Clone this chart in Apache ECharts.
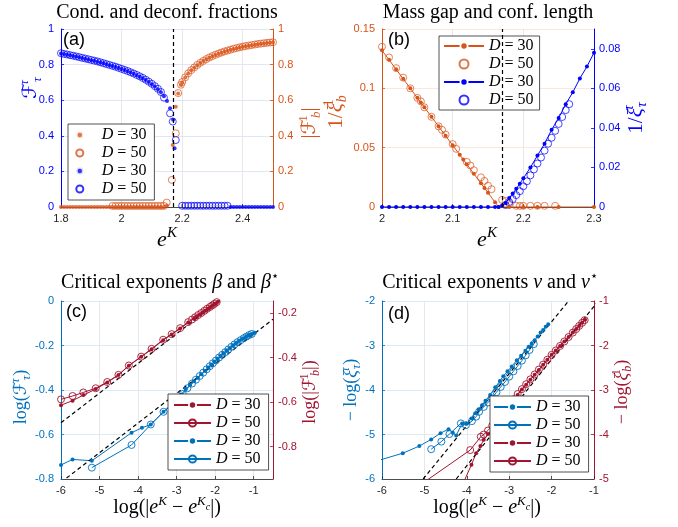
<!DOCTYPE html>
<html><head><meta charset="utf-8">
<script src="https://cdn.jsdelivr.net/npm/echarts@6/dist/echarts.min.js"></script>
<style>html,body{margin:0;padding:0;background:#fff}#c{width:678px;height:527px}</style>
</head><body><div id="c"></div>
<script>
// ---------------- DATA ----------------
const eKc = 2.175;
// (a) condensate (blue, left) and deconfined (orange, right) fractions vs e^K
const aBlue30X = [1.80,1.81,1.82,1.83,1.84,1.85,1.86,1.87,1.88,1.89,1.90,1.91,1.92,1.93,1.94,1.95,1.96,1.97,1.98,1.99,2.00,2.01,2.02,2.03,2.04,2.05,2.06,2.07,2.08,2.09,2.10,2.11,2.12,2.13,2.14,2.15,2.16,2.17,2.175,2.36,2.37,2.38,2.39,2.40,2.41,2.42,2.43,2.44,2.45,2.46,2.47,2.48,2.49,2.50];
const aBlue30Y = [0.862,0.859,0.855,0.852,0.848,0.845,0.841,0.837,0.833,0.829,0.825,0.821,0.816,0.812,0.807,0.802,0.797,0.792,0.786,0.781,0.775,0.769,0.762,0.755,0.748,0.740,0.732,0.723,0.713,0.702,0.690,0.677,0.662,0.644,0.622,0.595,0.555,0.490,0.330,0,0,0,0,0,0,0,0,0,0,0,0,0,0,0];
const aBlue50X = [1.80,1.81,1.82,1.83,1.84,1.85,1.86,1.87,1.88,1.89,1.90,1.91,1.92,1.93,1.94,1.95,1.96,1.97,1.98,1.99,2.00,2.01,2.02,2.03,2.04,2.05,2.06,2.07,2.08,2.09,2.10,2.11,2.12,2.13,2.14,2.16,2.169,2.179,2.20,2.21,2.22,2.23,2.24,2.25,2.26,2.27,2.28,2.29,2.30,2.31,2.32,2.33,2.34,2.35];
const aBlue50Y = [0.864,0.860,0.857,0.853,0.850,0.846,0.842,0.838,0.834,0.830,0.826,0.822,0.818,0.813,0.808,0.803,0.798,0.793,0.788,0.782,0.776,0.770,0.764,0.757,0.750,0.742,0.734,0.725,0.715,0.704,0.692,0.679,0.664,0.646,0.614,0.526,0.480,0.376,0.007,0.007,0.007,0.007,0.007,0.007,0.007,0.007,0.007,0.007,0.007,0.007,0.007,0.007,0.007,0.007];
const aOr30X = [1.80,1.81,1.82,1.83,1.84,1.85,1.86,1.87,1.88,1.89,1.90,1.91,1.92,1.93,1.94,1.95,1.96,1.97,1.98,1.99,2.00,2.01,2.02,2.03,2.04,2.05,2.06,2.07,2.08,2.09,2.10,2.11,2.12,2.13,2.14,2.15,2.169,2.179,2.187,2.196,2.20,2.21,2.22,2.23,2.24,2.25,2.26,2.27,2.28,2.29,2.30,2.31,2.32,2.33,2.34,2.35,2.36,2.37,2.38,2.39,2.40,2.41,2.42,2.43,2.44,2.45,2.46,2.47,2.48,2.49,2.50];
const aOr30Y = [0,0,0,0,0,0,0,0,0,0,0,0,0,0,0,0,0,0,0,0,0,0,0,0,0,0,0,0,0,0,0,0,0,0,0,0.008,0.348,0.563,0.638,0.685,0.700,0.727,0.750,0.768,0.783,0.797,0.809,0.820,0.830,0.839,0.847,0.854,0.861,0.867,0.873,0.878,0.883,0.888,0.892,0.896,0.900,0.903,0.906,0.909,0.912,0.915,0.917,0.919,0.921,0.923,0.925];
const aOr50X = [1.97,1.98,1.99,2.00,2.01,2.02,2.03,2.04,2.05,2.06,2.07,2.08,2.09,2.10,2.11,2.12,2.13,2.14,2.149,2.166,2.179,2.187,2.196,2.20,2.21,2.22,2.23,2.24,2.25,2.26,2.27,2.28,2.29,2.30,2.31,2.32,2.33,2.34,2.35,2.36,2.37,2.38,2.39,2.40,2.41,2.42,2.43,2.44,2.45,2.46,2.47,2.48,2.49,2.50];
const aOr50Y = [0.006,0.006,0.006,0.006,0.006,0.006,0.006,0.006,0.006,0.006,0.006,0.006,0.006,0.006,0.006,0.006,0.006,0.006,0.025,0.152,0.414,0.640,0.687,0.702,0.728,0.751,0.769,0.784,0.798,0.810,0.821,0.831,0.840,0.848,0.855,0.862,0.868,0.874,0.879,0.884,0.889,0.893,0.897,0.901,0.904,0.907,0.910,0.913,0.916,0.918,0.920,0.922,0.924,0.926];

// (b) inverse lengths vs e^K
const bOr30X = [2.000,2.010,2.020,2.030,2.040,2.050,2.055,2.060,2.070,2.080,2.090,2.100,2.110,2.115,2.120,2.130,2.140,2.145,2.150,2.160,2.165,2.180,2.200,2.220,2.250,2.300];
const bOr30Y = [0.132,0.124,0.116,0.108,0.100,0.092,0.088,0.084,0.076,0.068,0.060,0.052,0.044,0.040,0.036,0.028,0.020,0.016,0.012,0.004,0.000,0,0,0,0,0];
const bOr50X = [2.000,2.010,2.020,2.030,2.040,2.050,2.055,2.060,2.070,2.080,2.085,2.090,2.100,2.105,2.120,2.125,2.130,2.140,2.145,2.150,2.155,2.170,2.175,2.180,2.190,2.195,2.200,2.210,2.220,2.230,2.245];
const bOr50Y = [0.135,0.126,0.117,0.109,0.100,0.092,0.089,0.084,0.076,0.068,0.065,0.061,0.053,0.049,0.038,0.035,0.031,0.025,0.022,0.018,0.015,0.006,0.005,0.003,0.001,0.001,0.001,0.001,0.001,0.001,0.001];
const bBlu30X = [2.00,2.01,2.02,2.03,2.04,2.05,2.06,2.07,2.08,2.09,2.10,2.11,2.12,2.13,2.14,2.15,2.16,2.165,2.17,2.175,2.18,2.185,2.19,2.195,2.20,2.21,2.22,2.23,2.24,2.25,2.26,2.27,2.28,2.29,2.30];
const bBlu30Y = [0,0,0,0,0,0,0,0,0,0,0,0,0,0,0,0,0,0,0.0008,0.002,0.0045,0.0068,0.0092,0.0118,0.0145,0.020,0.026,0.032,0.039,0.045,0.052,0.058,0.065,0.071,0.078];
const bBlu50X = [2.175,2.180,2.185,2.190,2.195,2.200,2.205,2.210,2.215,2.220,2.225,2.230,2.235,2.240,2.245,2.250,2.255,2.260,2.265];
const bBlu50Y = [0.001,0.0025,0.004,0.006,0.008,0.0105,0.013,0.016,0.019,0.022,0.025,0.0285,0.032,0.035,0.0385,0.042,0.0455,0.049,0.052];

// (c) log-log fractions
const cRed30X = [-6.0,-5.70,-5.42,-5.10,-4.80,-4.51,-4.24,-3.92,-3.65,-3.35,-3.13,-2.91,-2.70,-2.55,-2.48,-2.40,-2.32,-2.25,-2.18,-2.11,-2.05,-1.99,-1.93,-1.88,-1.83,-1.78,-1.73];
const cRed30Y = [-0.613,-0.593,-0.568,-0.541,-0.511,-0.478,-0.436,-0.396,-0.362,-0.321,-0.296,-0.269,-0.242,-0.224,-0.215,-0.206,-0.196,-0.188,-0.179,-0.171,-0.163,-0.156,-0.148,-0.142,-0.136,-0.130,-0.124];
const cRed50X = [-6.0,-5.70,-5.42,-5.10,-4.80,-4.51,-4.24,-3.92,-3.65,-3.35,-3.13,-2.91,-2.70,-2.60,-2.52,-2.44,-2.36,-2.28,-2.21,-2.14,-2.08,-2.02,-1.96,-1.90,-1.85,-1.80,-1.75];
const cRed50Y = [-0.587,-0.572,-0.556,-0.537,-0.509,-0.477,-0.435,-0.395,-0.360,-0.319,-0.294,-0.267,-0.240,-0.228,-0.218,-0.208,-0.199,-0.189,-0.180,-0.172,-0.165,-0.158,-0.150,-0.143,-0.137,-0.131,-0.125];
const cBlu30X = [-6.0,-5.70,-5.20,-4.17,-3.90,-3.67,-3.34,-3.05,-2.88,-2.76,-2.65,-2.55,-2.45,-2.36,-2.27,-2.18,-2.10,-2.02,-1.94,-1.86,-1.78,-1.70,-1.62,-1.54,-1.46,-1.38,-1.30,-1.22,-1.15,-1.08,-1.02,-0.97];
const cBlu30Y = [-0.737,-0.712,-0.718,-0.592,-0.570,-0.555,-0.498,-0.452,-0.420,-0.396,-0.378,-0.361,-0.345,-0.329,-0.314,-0.299,-0.286,-0.273,-0.260,-0.247,-0.235,-0.223,-0.212,-0.200,-0.190,-0.180,-0.171,-0.163,-0.156,-0.150,-0.146,-0.143];
const cBlu50X = [-5.20,-4.17,-3.67,-3.34,-3.02,-2.84,-2.72,-2.60,-2.50,-2.40,-2.31,-2.22,-2.14,-2.06,-1.98,-1.90,-1.82,-1.74,-1.66,-1.58,-1.50,-1.42,-1.34,-1.26,-1.19,-1.12,-1.05];
const cBlu50Y = [-0.749,-0.647,-0.555,-0.498,-0.448,-0.418,-0.392,-0.371,-0.354,-0.337,-0.322,-0.307,-0.293,-0.280,-0.267,-0.254,-0.242,-0.230,-0.218,-0.206,-0.195,-0.185,-0.176,-0.167,-0.160,-0.153,-0.148];
const cFitTauX = [-6.0,-0.5];  const cFitTauY = [-0.815,-0.082];   // slope 2/15 (left axis)
const cFitBX   = [-6.0,-0.5];  const cFitBY   = [-0.692,0.041];    // slope 2/15 (right axis)

// (d) log-log lengths
const dBlu30X = [-6.6,-5.51,-5.12,-4.84,-4.62,-4.43,-4.33,-4.25,-4.11,-4.01,-3.89,-3.80,-3.72,-3.64,-3.56,-3.45,-3.33,-3.22,-3.14,-3.04,-2.94,-2.82,-2.72,-2.62,-2.54,-2.47,-2.40,-2.33,-2.26,-2.20,-2.14,-2.08];
const dBlu30Y = [-5.73,-5.42,-5.26,-5.11,-4.97,-4.88,-4.96,-5.02,-4.75,-4.76,-4.64,-4.52,-4.43,-4.34,-4.24,-4.11,-3.94,-3.80,-3.69,-3.58,-3.47,-3.33,-3.23,-3.12,-3.03,-2.96,-2.88,-2.80,-2.71,-2.65,-2.58,-2.52];
const dBlu50X = [-4.84,-4.60,-4.41,-4.14,-4.02,-3.88,-3.78,-3.71,-3.60,-3.50,-3.41,-3.30,-3.20,-3.10,-3.00,-2.90,-2.80,-2.70,-2.61,-2.52,-2.42];
const dBlu50Y = [-5.33,-5.16,-4.99,-4.75,-4.79,-4.70,-4.60,-4.49,-4.38,-4.28,-4.19,-4.05,-3.93,-3.82,-3.70,-3.58,-3.46,-3.34,-3.22,-3.10,-2.97];
const dRed30X = [-4.20,-3.89,-3.78,-3.68,-3.60,-3.50,-3.40,-3.30,-3.20,-3.10,-3.00,-2.90,-2.80,-2.70,-2.60,-2.50,-2.40,-2.30,-2.20,-2.10,-2.00,-1.90,-1.80,-1.70,-1.60,-1.50,-1.42,-1.35,-1.28,-1.21];
const dRed30Y = [-5.34,-4.68,-4.42,-4.26,-4.12,-3.99,-3.87,-3.74,-3.61,-3.49,-3.36,-3.23,-3.11,-2.99,-2.88,-2.77,-2.66,-2.55,-2.43,-2.32,-2.21,-2.11,-2.01,-1.91,-1.81,-1.71,-1.63,-1.56,-1.49,-1.42];
const dRed50X = [-5.20,-3.92,-3.67,-3.60,-3.50,-3.40,-3.30,-3.20,-3.10,-3.00,-2.90,-2.80,-2.70,-2.60,-2.50,-2.40,-2.30,-2.20,-2.10,-2.00,-1.90,-1.80,-1.70,-1.60,-1.50,-1.42,-1.35,-1.28,-1.22];
const dRed50Y = [-5.20,-4.35,-4.05,-4.00,-3.91,-3.80,-3.68,-3.57,-3.45,-3.33,-3.21,-3.09,-2.98,-2.87,-2.76,-2.65,-2.54,-2.43,-2.32,-2.21,-2.11,-2.01,-1.91,-1.81,-1.71,-1.63,-1.56,-1.49,-1.43];
const dFitTauX = [-5.03,-1.60]; const dFitTauY = [-6.0,-2.0];     // slope 7/6 (left axis)
const dFitBX   = [-4.25,-0.90]; const dFitBY   = [-5.0,-1.0];     // slope 7/6 (right axis)

// tick labels for the shifted right axis of (c)
const cRightTicks = [-0.8,-0.6,-0.4,-0.2];

// ---------------- STYLE ----------------
const BLUE='#0000FF', ORANGE='#D95319', MBLUE='#0072BD', MRED='#A2142F', INK='#262626';
const SANS="'Liberation Sans', Arial, sans-serif";
const SERIF="'Liberation Serif','DejaVu Serif',serif";
const pts=(xs,ys)=>xs.map((x,i)=>[x,ys[i]]);

function xAx(gi,min,max,interval,showMax){
  return {type:'value',gridIndex:gi,min,max,interval,
    axisLine:{show:true,onZero:false,lineStyle:{color:INK,width:0.8}},
    axisTick:{show:true,inside:true,length:3,lineStyle:{color:INK,width:0.8}},
    axisLabel:{color:INK,fontFamily:SANS,fontSize:11,margin:6,showMaxLabel:showMax,showMinLabel:true},
    splitLine:{show:true,lineStyle:{color:'#e2e2e2',width:0.8}}};
}
function yAx(gi,pos,min,max,interval,color,grid,showMax){
  return {type:'value',gridIndex:gi,position:pos,min,max,interval,
    axisLine:{show:true,onZero:false,lineStyle:{color,width:1}},
    axisTick:{show:true,inside:true,length:3,lineStyle:{color,width:0.8}},
    axisLabel:{color,fontFamily:SANS,fontSize:11,margin:pos==='left'?7:5,showMaxLabel:showMax!==false,showMinLabel:true},
    splitLine:{show:!!grid,lineStyle:{color:grid||'#eee',width:0.8}}};
}
function dots(name,xi,yi,xs,ys,color,size){
  return {type:'scatter',name,xAxisIndex:xi,yAxisIndex:yi,data:pts(xs,ys),symbol:'circle',symbolSize:size,
    itemStyle:{color},emphasis:{disabled:true},silent:true,clip:true};
}
function rings(name,xi,yi,xs,ys,color,size){
  return {type:'scatter',name,xAxisIndex:xi,yAxisIndex:yi,data:pts(xs,ys),symbol:'circle',symbolSize:size,
    itemStyle:{color:'rgba(255,255,255,0)',borderColor:color,borderWidth:0.9},emphasis:{disabled:true},silent:true,clip:true};
}
function lineDots(name,xi,yi,xs,ys,color,size,hollow){
  return {type:'line',name,xAxisIndex:xi,yAxisIndex:yi,data:pts(xs,ys),symbol:'circle',symbolSize:size,
    showSymbol:true,showAllSymbol:true,lineStyle:{color,width:1},
    itemStyle:hollow?{color:'rgba(255,255,255,0)',borderColor:color,borderWidth:0.9}:{color,borderWidth:0},
    emphasis:{disabled:true},silent:true,clip:true};
}
function fit(name,xi,yi,xs,ys){
  return {type:'line',name,xAxisIndex:xi,yAxisIndex:yi,data:pts(xs,ys),symbol:'none',
    lineStyle:{color:'#000',width:1.2,type:[4,3]},emphasis:{disabled:true},silent:true,clip:true};
}
function vline(xv){
  return {silent:true,symbol:['none','none'],label:{show:false},animation:false,
    lineStyle:{color:'#000',width:1.2,type:[4,3]},data:[{xAxis:xv}]};
}
function rich(S,color){
  const LH=Math.round(S*1.3), s=Math.round(S*0.66);
  const base={fontFamily:SERIF,fill:color,color};
  return {
    n:Object.assign({},base,{fontSize:S,lineHeight:LH}),
    i:Object.assign({},base,{fontSize:S,lineHeight:LH,fontStyle:'italic'}),
    F:Object.assign({},base,{fontSize:S,lineHeight:LH,fontFamily:"'DejaVu Serif','DejaVu Sans',serif",fontStyle:'italic'}),
    sp:Object.assign({},base,{fontSize:s,lineHeight:s,fontStyle:'italic',verticalAlign:'top'}),
    spn:Object.assign({},base,{fontSize:s,lineHeight:s,verticalAlign:'top'}),
    sp0:Object.assign({},base,{fontSize:s,lineHeight:s,fontStyle:'italic',verticalAlign:'top',width:1}),
    spn0:Object.assign({},base,{fontSize:s,lineHeight:s,verticalAlign:'top',width:1}),
    sb:Object.assign({},base,{fontSize:s,lineHeight:s,fontStyle:'italic',verticalAlign:'bottom'}),
    ss:Object.assign({},base,{fontSize:Math.round(S*0.48),lineHeight:Math.round(S*0.48),fontStyle:'italic',verticalAlign:'top',padding:[Math.round(S*0.36),0,0,0]})
  };
}
function gtext(x,y,text,S,color,rot,align){
  return {type:'text',x,y,rotation:rot||0,silent:true,z:100,
    style:{text,fill:color,fontFamily:SERIF,fontSize:S,align:align||'center',verticalAlign:'middle',rich:rich(S,color)}};
}
function tag(x,y,text){
  return {type:'text',x,y,silent:true,z:100,style:{text,fill:'#000',fontFamily:SANS,fontSize:18,align:'left',verticalAlign:'middle'}};
}
const legFmt=name=>'{i|D}{n| = '+(name.slice(-2))+'}';
function legend(names,left,top,iw,ih,pad){
  return {show:true,orient:'vertical',left,top,data:names,formatter:legFmt,
    itemWidth:iw,itemHeight:ih,itemGap:2,padding:pad,selectedMode:false,
    backgroundColor:'#fff',borderColor:INK,borderWidth:0.8,borderRadius:0,
    textStyle:{color:'#000',fontFamily:SERIF,fontSize:16,lineHeight:16,
      rich:{i:{fontFamily:SERIF,fontStyle:'italic',fontSize:16,lineHeight:16},n:{fontFamily:SERIF,fontSize:16,lineHeight:16}}}};
}
const dotItem=(name,w)=>({name,itemStyle:{borderColor:'#fff',borderWidth:w}});

const R=Math.PI/2;
const option={
  animation:false,
  backgroundColor:'#fff',
  grid:[
    {left:61,top:29,width:212,height:178},
    {left:382,top:29,width:212,height:178},
    {left:61,top:301,width:212,height:178},
    {left:382,top:301,width:212,height:178}
  ],
  xAxis:[
    xAx(0,1.8,2.5,0.2,false),
    xAx(1,2.0,2.3,0.1,true),
    xAx(2,-6,-0.5,1,false),
    xAx(3,-6,-1,1,true)
  ],
  yAxis:[
    yAx(0,'left',0,1,0.2,BLUE,'#dcdcfb'),
    yAx(0,'right',0,1,0.2,ORANGE,null),
    yAx(1,'left',0,0.15,0.05,ORANGE,'#f8e2d8'),
    yAx(1,'right',0,0.09,0.02,BLUE,null,false),
    yAx(2,'left',-0.8,0,0.2,MBLUE,'#d6e6f3'),
    Object.assign(yAx(2,'right',-0.945,-0.145,0.2,MRED,null),{
      axisTick:{show:true,inside:true,length:3,lineStyle:{color:MRED,width:0.8},customValues:cRightTicks},
      axisLabel:{color:MRED,fontFamily:SANS,fontSize:11,margin:5,customValues:cRightTicks}}),
    yAx(3,'left',-6,-2,1,MBLUE,'#d6e6f3'),
    yAx(3,'right',-5,-1,1,MRED,null)
  ],
  legend:[
    legend([dotItem('aO30',2.6),'aO50',dotItem('aB30',2.6),'aB50'],68,124,34,7,[3,8,3,7]),
    legend([dotItem('bO30',1.8),'bO50',dotItem('bB30',1.8),'bB50'],439,36,40,9,[2,6,2,4]),
    legend([dotItem('cR30',1.8),'cR50',dotItem('cB30',1.8),'cB50'],168,394,37,9,[3,8,3,5]),
    legend([dotItem('dB30',1.8),'dB50',dotItem('dR30',1.8),'dR50'],490,396,37,9,[3,8,3,3])
  ],
  series:[
    Object.assign(dots('aO30',0,1,aOr30X,aOr30Y,ORANGE,4),{markLine:vline(eKc)}),
    rings('aO50',0,1,aOr50X,aOr50Y,ORANGE,7),
    dots('aB30',0,0,aBlue30X,aBlue30Y,BLUE,4),
    rings('aB50',0,0,aBlue50X,aBlue50Y,BLUE,7),

    Object.assign(lineDots('bO30',1,2,bOr30X,bOr30Y,ORANGE,4,false),{markLine:vline(eKc)}),
    rings('bO50',1,2,bOr50X,bOr50Y,ORANGE,7),
    lineDots('bB30',1,3,bBlu30X,bBlu30Y,BLUE,4,false),
    rings('bB50',1,3,bBlu50X,bBlu50Y,BLUE,7),

    lineDots('cR30',2,5,cRed30X,cRed30Y,MRED,4,false),
    lineDots('cR50',2,5,cRed50X,cRed50Y,MRED,7,true),
    lineDots('cB30',2,4,cBlu30X,cBlu30Y,MBLUE,4,false),
    lineDots('cB50',2,4,cBlu50X,cBlu50Y,MBLUE,7,true),
    fit('fitC1',2,4,cFitTauX,cFitTauY),
    fit('fitC2',2,5,cFitBX,cFitBY),

    lineDots('dB30',3,6,dBlu30X,dBlu30Y,MBLUE,4,false),
    lineDots('dB50',3,6,dBlu50X,dBlu50Y,MBLUE,7,true),
    lineDots('dR30',3,7,dRed30X,dRed30Y,MRED,4,false),
    lineDots('dR50',3,7,dRed50X,dRed50Y,MRED,7,true),
    fit('fitD1',3,6,dFitTauX,dFitTauY),
    fit('fitD2',3,7,dFitBX,dFitBY)
  ],
  graphic:[
    gtext(167,13,'{n|Cond. and deconf. fractions}',20,'#000'),
    gtext(488,13,'{n|Mass gap and conf. length}',20,'#000'),
    gtext(170,283,'{n|Critical exponents }{i|β}{n| and }{i|β}{spn|⋆}',20,'#000'),
    gtext(490,283,'{n|Critical exponents }{i|ν}{n| and }{i|ν}{spn|⋆}',20,'#000'),
    tag(63,40,'(a)'), tag(388,40,'(b)'), tag(66,312,'(c)'), tag(388,314,'(d)'),
    gtext(167,240,'{i|e}{sp|K}',22,'#000'),
    gtext(487,240,'{i|e}{sp|K}',22,'#000'),
    gtext(167,508,'{n|log(|}{i|e}{sp|K}{n| − }{i|e}{sp|K}{ss|c}{n||)}',20,'#000'),
    gtext(487,508,'{n|log(|}{i|e}{sp|K}{n| − }{i|e}{sp|K}{ss|c}{n||)}',20,'#000'),
    gtext(31,88,'{F|ℱ}{sp0|τ}{sb|τ}',20,BLUE,R),
    gtext(310,123,'{n||}{F|ℱ}{spn0|1}{sb|b}{n||}',20,ORANGE,R),
    gtext(336,112,'{n|1/}{i|ξ}{spn0|1}{sb|b}',21,ORANGE,R),
    gtext(636,118,'{n|1/}{i|ξ}{sp0|τ}{sb|τ}',21,BLUE,R),
    gtext(21,397,'{n|log(}{F|ℱ}{sp0|τ}{sb|τ}{n|)}',18,MBLUE,R),
    gtext(310,392,'{n|log(|}{F|ℱ}{spn0|1}{sb|b}{n||)}',18,MRED,R),
    gtext(351,390,'{n|− log(}{i|ξ}{sp0|τ}{sb|τ}{n|)}',18,MBLUE,R),
    gtext(622,392,'{n|− log(}{i|ξ}{spn0|1}{sb|b}{n|)}',18,MRED,R),
    gtext(71,335,'{i|β}{n| = }{i|β}{spn|⋆}',21,'#222','left'),
    gtext(71,356,'{n|= 2/15}',21,'#222','left'),
    gtext(384,346,'{i|ν}{n| = }{i|ν}{spn|⋆}{n| = 7/6}',21,'#222','left')
  ]
};
const chart=echarts.init(document.getElementById('c'),null,{renderer:'canvas'});
chart.setOption(option);
</script>
</body></html>
